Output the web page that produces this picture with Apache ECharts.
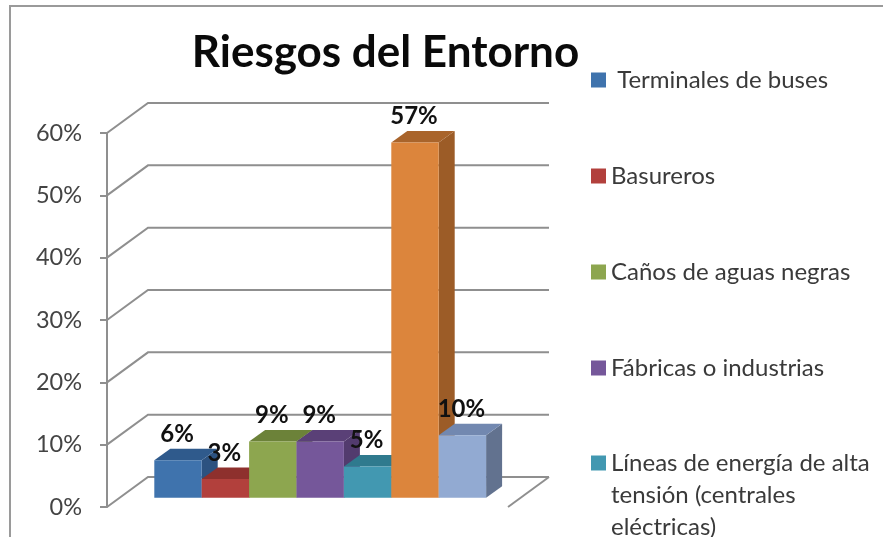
<!DOCTYPE html>
<html>
<head>
<meta charset="utf-8">
<style>html,body{margin:0;padding:0;background:#fff}#c{width:883px;height:537px}</style>
<script src="https://cdn.jsdelivr.net/npm/echarts@6/dist/echarts.min.js"></script>
</head>
<body>
<div id="c"></div>
<script>
const titleText = 'Riesgos del Entorno';
const seriesNames = [' Terminales de buses','Basureros','Caños de aguas negras','Fábricas o industrias','Líneas de energía de alta\ntensión (centrales\neléctricas)','Serie 6','Serie 7'];
const seriesValues = [6,3,9,9,5,57,10];
const yTicks = [0,10,20,30,40,50,60];
const faceColors = ['#3f73ad','#b2403c','#8da64f','#75579a','#4298b1','#dc853c','#92aad2'];
const topColors  = ['#2f5a8c','#8e302d','#6c8239','#5a4077','#2f7a8e','#a9642b','#7288b0'];
const sideColors = ['#2c5280','#82302c','#617534','#523b6e','#2b6f82','#9c5c27','#62728f'];

const WALL_DX = 41, WALL_DY = -30;
const BAR_SHIFT_X = 12.7, BAR_SHIFT_Y = -9.3, BAR_DX = 16, BAR_DY = -11.5;
const X_MIN = -0.73, X_MAX = 7.73;
const FONT = 'Lato, "Open Sans", sans-serif';

function wallItem(params, api) {
  const v = api.value(0);
  const a = api.coord([X_MIN, v]);
  const b = api.coord([X_MAX, v]);
  const children = [{
    type: 'polyline',
    shape: { points: [a, [a[0] + WALL_DX, a[1] + WALL_DY], [b[0] + WALL_DX, b[1] + WALL_DY]] },
    style: { stroke: '#8f8f8f', lineWidth: 2, fill: null }
  }];
  if (v === 0) {
    children.push({
      type: 'line',
      shape: { x1: b[0], y1: b[1], x2: b[0] + WALL_DX, y2: b[1] + WALL_DY },
      style: { stroke: '#8f8f8f', lineWidth: 2 }
    });
  }
  return { type: 'group', children };
}

function barItem(idx) {
  return function (params, api) {
    const i = api.value(0), v = api.value(1);
    const p0 = api.coord([i, 0]), p1 = api.coord([i + 1, v]);
    const x0 = p0[0] + BAR_SHIFT_X, x1 = p1[0] + BAR_SHIFT_X;
    const yb = p0[1] + BAR_SHIFT_Y, yt = p1[1] + BAR_SHIFT_Y;
    return {
      type: 'group',
      children: [
        { type: 'polygon', shape: { points: [[x1, yb], [x1 + BAR_DX, yb + BAR_DY], [x1 + BAR_DX, yt + BAR_DY], [x1, yt]] }, style: { fill: sideColors[idx] } },
        { type: 'polygon', shape: { points: [[x0, yt], [x1, yt], [x1 + BAR_DX, yt + BAR_DY], [x0 + BAR_DX, yt + BAR_DY]] }, style: { fill: topColors[idx] } },
        { type: 'rect', shape: { x: x0, y: yt, width: x1 - x0, height: yb - yt }, style: { fill: faceColors[idx] } },
        { type: 'text', z2: 100, style: { x: (x0 + x1) / 2 - 1, y: yt - 26, text: v + '%', fill: '#111', font: 'bold 24px ' + FONT, textAlign: 'center', textVerticalAlign: 'middle' } }
      ]
    };
  };
}

const option = {
  animation: false,
  backgroundColor: '#fff',
  title: {
    text: titleText, left: 380.5, top: 26, textAlign: 'center',
    textStyle: { fontFamily: FONT, fontSize: 44, fontWeight: 'bold', color: '#0a0a0a' }
  },
  grid: { left: 107, right: 375, top: 133, bottom: 30 },
  xAxis: { type: 'value', min: X_MIN, max: X_MAX, show: false },
  yAxis: {
    type: 'value', min: 0, max: 60, interval: 10,
    axisLine: { show: true, onZero: false, lineStyle: { color: '#8f8f8f', width: 2 } },
    axisTick: { show: true, length: 7, lineStyle: { color: '#8f8f8f', width: 2 } },
    axisLabel: { formatter: '{value}%', margin: 25, fontFamily: FONT, fontSize: 23.5, color: '#444', padding: [4, 0, 0, 0] },
    splitLine: { show: false }
  },
  legend: [
    {
      data: seriesNames.slice(0, 4), orient: 'vertical', left: 591, top: 68, itemWidth: 15, itemHeight: 15, itemGap: 72,
      icon: 'rect', selectedMode: false, padding: 0, itemStyle: { borderWidth: 0 },
      textStyle: { fontFamily: FONT, fontSize: 24, color: '#3a3a3a' }
    },
    {
      data: [seriesNames[4]], orient: 'vertical', left: 591, top: 383, itemWidth: 15, itemHeight: 15, itemGap: 0,
      icon: 'rect', selectedMode: false, padding: 0, itemStyle: { borderWidth: 0 },
      formatter: n => '\n\n' + n,
      textStyle: { fontFamily: FONT, fontSize: 24, lineHeight: 32, color: '#3a3a3a' }
    }
  ],
  graphic: [{
    type: 'polyline', silent: true, z: 0,
    shape: { points: [[10, 537], [10, 6], [883, 6]] },
    style: { stroke: '#9a9a9a', lineWidth: 2, fill: null }
  }],
  series: [
    {
      type: 'custom', name: 'walls', renderItem: wallItem, clip: false, z: 1, silent: true,
      encode: { y: 0 }, data: yTicks.map(v => [v])
    }
  ].concat(seriesNames.map((name, idx) => ({
    type: 'custom', name, renderItem: barItem(idx), clip: false, z: 2,
    itemStyle: { color: faceColors[idx] },
    encode: { x: 0, y: 1 }, data: [[idx, seriesValues[idx]]]
  })))
};
const chart = echarts.init(document.getElementById('c'), null, { renderer: 'canvas' });
chart.setOption(option);
</script>
</body>
</html>
